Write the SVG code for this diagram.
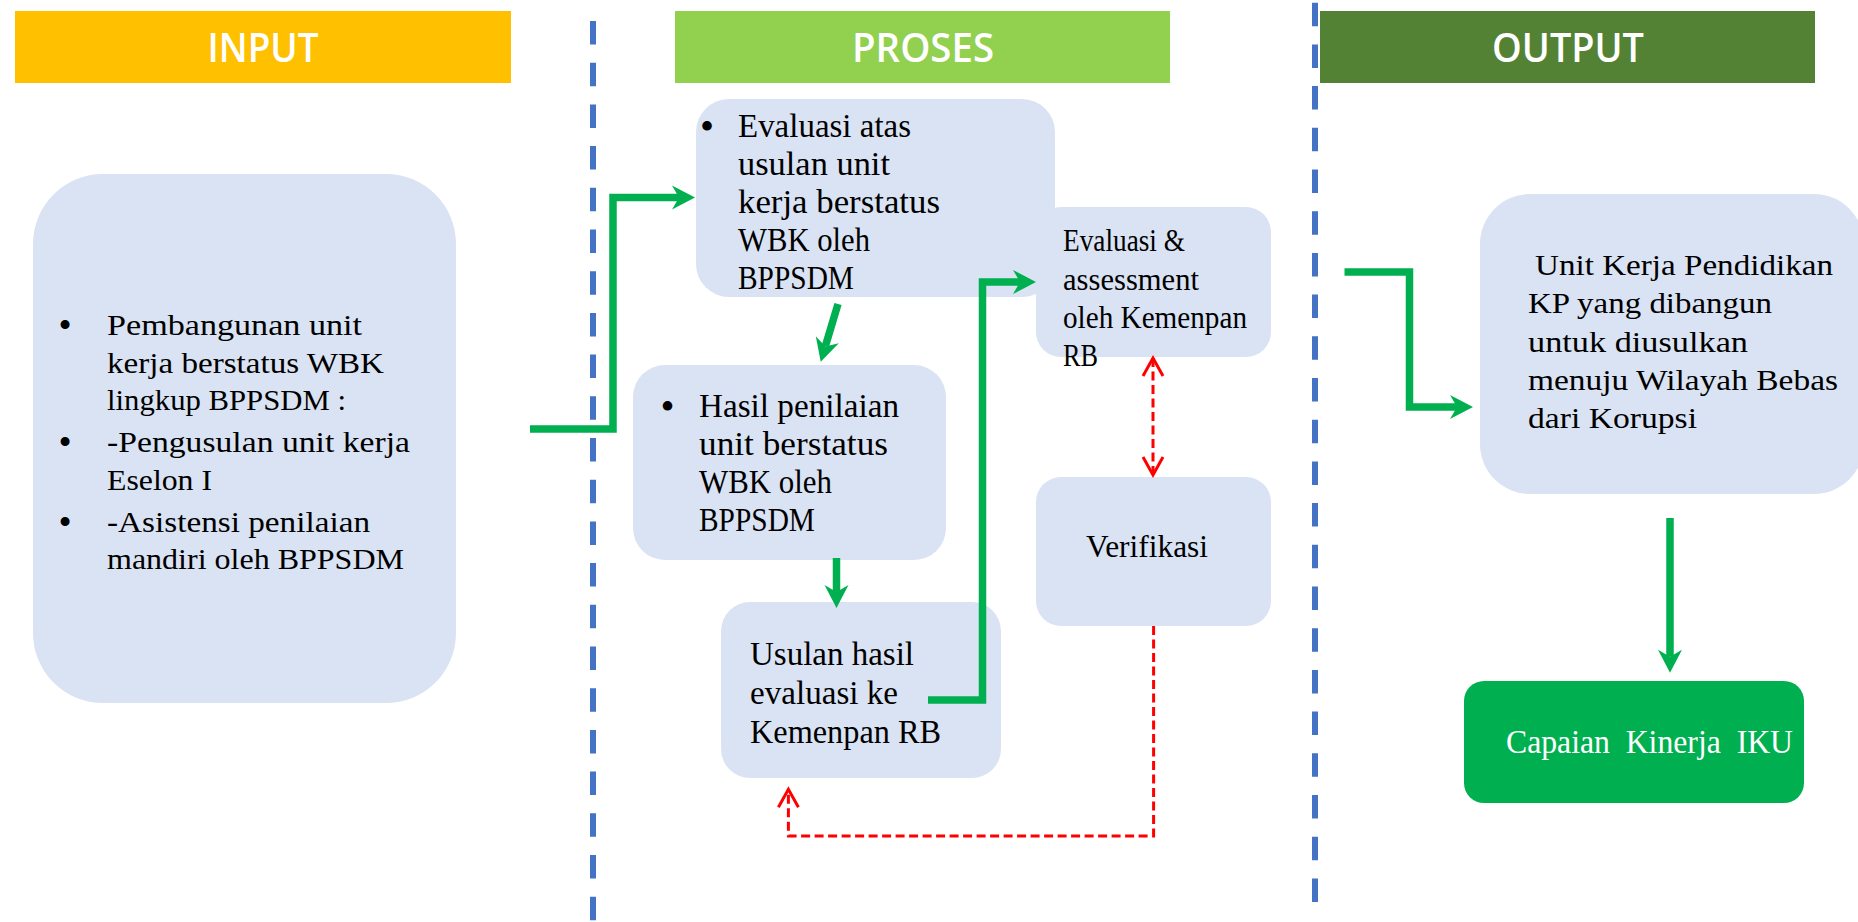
<svg xmlns="http://www.w3.org/2000/svg" width="1858" height="922" viewBox="0 0 1858 922">
<defs>
<style>
.hdr{font-family:"Open Sans","Liberation Sans",sans-serif;font-weight:600;font-size:39px;fill:#ffffff;text-anchor:middle}
.box{fill:#DAE3F3}
.t{font-family:"Liberation Serif","Times New Roman",serif;fill:#000000}
.w{fill:#ffffff}
.bul{text-anchor:middle}
.divider{stroke:#4472C4;stroke-width:6;stroke-dasharray:23.5 18.2;fill:none}
.g{stroke:#00B050;stroke-width:7.5;fill:none;stroke-linejoin:miter;marker-end:url(#ga)}
.r{stroke:#FF0000;stroke-width:3;fill:none;stroke-dasharray:9 4.5}
</style>
<marker id="ga" markerUnits="userSpaceOnUse" viewBox="0 0 23 24" markerWidth="23" markerHeight="24" refX="7" refY="12" orient="auto" overflow="visible">
<path d="M0,0 L23,12 L0,24 L7,12 Z" fill="#00B050"/>
</marker>
<marker id="ra" markerUnits="userSpaceOnUse" viewBox="-2 -2 22 24" markerWidth="22" markerHeight="24" refX="18" refY="10" orient="auto-start-reverse" overflow="visible">
<path d="M0,0 L18,10 L0,20" fill="none" stroke="#FF0000" stroke-width="3" stroke-dasharray="none"/>
</marker>
</defs>

<g id="dividers">
<line class="divider" x1="593" y1="21" x2="593" y2="922"/>
<line class="divider" x1="1315" y1="2.7" x2="1315" y2="907"/>
</g>

<g id="header-input">
<rect x="15" y="11" width="496" height="72" fill="#FFC000"/>
<text class="hdr" x="263" y="62" textLength="111" lengthAdjust="spacingAndGlyphs">INPUT</text>
</g>
<g id="header-proses">
<rect x="675" y="11" width="495" height="72" fill="#92D050"/>
<text class="hdr" x="923" y="62" textLength="142" lengthAdjust="spacingAndGlyphs">PROSES</text>
</g>
<g id="header-output">
<rect x="1320" y="11" width="495" height="72" fill="#548235"/>
<text class="hdr" x="1568" y="62" textLength="152" lengthAdjust="spacingAndGlyphs">OUTPUT</text>
</g>

<g id="node-input">
<rect class="box" x="33" y="174" width="423" height="529" rx="70"/>
<g class="t" font-size="30">
<text class="bul" x="65" y="338" font-size="37.5">•</text>
<text x="107" y="335" textLength="255" lengthAdjust="spacingAndGlyphs">Pembangunan unit</text>
<text x="107" y="372.5" textLength="277" lengthAdjust="spacingAndGlyphs">kerja berstatus WBK</text>
<text x="107" y="410" textLength="239" lengthAdjust="spacingAndGlyphs">lingkup BPPSDM :</text>
<text class="bul" x="65" y="455" font-size="37.5">•</text>
<text x="107" y="452" textLength="303" lengthAdjust="spacingAndGlyphs">-Pengusulan unit kerja</text>
<text x="107" y="490" textLength="105" lengthAdjust="spacingAndGlyphs">Eselon I</text>
<text class="bul" x="65" y="534.5" font-size="37.5">•</text>
<text x="107" y="531.5" textLength="263" lengthAdjust="spacingAndGlyphs">-Asistensi penilaian</text>
<text x="107" y="569" textLength="297" lengthAdjust="spacingAndGlyphs">mandiri oleh BPPSDM</text>
</g>
</g>

<g id="node-evaluasi-atas">
<rect class="box" x="696" y="99" width="359" height="198" rx="33"/>
<g class="t" font-size="33">
<text class="bul" x="707" y="140" font-size="40">•</text>
<text x="738" y="137" textLength="173" lengthAdjust="spacingAndGlyphs">Evaluasi atas</text>
<text x="738" y="175" textLength="152" lengthAdjust="spacingAndGlyphs">usulan unit</text>
<text x="738" y="213" textLength="202" lengthAdjust="spacingAndGlyphs">kerja berstatus</text>
<text x="738" y="251" textLength="132" lengthAdjust="spacingAndGlyphs">WBK oleh</text>
<text x="738" y="289" textLength="116" lengthAdjust="spacingAndGlyphs">BPPSDM</text>
</g>
</g>

<g id="node-evaluasi-assessment">
<rect class="box" x="1036" y="207" width="235" height="150" rx="25"/>
<g class="t" font-size="31">
<text x="1063" y="251" textLength="122" lengthAdjust="spacingAndGlyphs">Evaluasi &amp;</text>
<text x="1063" y="290" textLength="136" lengthAdjust="spacingAndGlyphs">assessment</text>
<text x="1063" y="328" textLength="184" lengthAdjust="spacingAndGlyphs">oleh Kemenpan</text>
<text x="1063" y="366" textLength="35" lengthAdjust="spacingAndGlyphs">RB</text>
</g>
</g>

<g id="node-hasil">
<rect class="box" x="633" y="365" width="313" height="195" rx="32"/>
<g class="t" font-size="33">
<text class="bul" x="667.5" y="420" font-size="40">•</text>
<text x="699" y="417" textLength="200" lengthAdjust="spacingAndGlyphs">Hasil penilaian</text>
<text x="699" y="455" textLength="189" lengthAdjust="spacingAndGlyphs">unit berstatus</text>
<text x="699" y="493" textLength="133" lengthAdjust="spacingAndGlyphs">WBK oleh</text>
<text x="699" y="531" textLength="116" lengthAdjust="spacingAndGlyphs">BPPSDM</text>
</g>
</g>

<g id="node-usulan">
<rect class="box" x="721" y="602" width="280" height="176" rx="29"/>
<g class="t" font-size="33">
<text x="750" y="665" textLength="164" lengthAdjust="spacingAndGlyphs">Usulan hasil</text>
<text x="750" y="704" textLength="148" lengthAdjust="spacingAndGlyphs">evaluasi ke</text>
<text x="750" y="743" textLength="191" lengthAdjust="spacingAndGlyphs">Kemenpan RB</text>
</g>
</g>

<g id="node-verifikasi">
<rect class="box" x="1036" y="477" width="235" height="149" rx="25"/>
<text class="t" font-size="31" x="1086" y="557" textLength="122" lengthAdjust="spacingAndGlyphs">Verifikasi</text>
</g>

<g id="node-unit-kerja">
<rect class="box" x="1480" y="194" width="384" height="300" rx="50"/>
<g class="t" font-size="30">
<text x="1535" y="275" textLength="298" lengthAdjust="spacingAndGlyphs">Unit Kerja Pendidikan</text>
<text x="1528" y="313" textLength="244" lengthAdjust="spacingAndGlyphs">KP yang dibangun</text>
<text x="1528" y="352" textLength="220" lengthAdjust="spacingAndGlyphs">untuk diusulkan</text>
<text x="1528" y="390" textLength="310" lengthAdjust="spacingAndGlyphs">menuju Wilayah Bebas</text>
<text x="1528" y="428" textLength="169" lengthAdjust="spacingAndGlyphs">dari Korupsi</text>
</g>
</g>

<g id="node-capaian">
<rect x="1464" y="681" width="340" height="122" rx="20" fill="#00B050"/>
<text class="t w" font-size="33" x="1506" y="753" xml:space="preserve" style="white-space:pre" textLength="287" lengthAdjust="spacingAndGlyphs">Capaian  Kinerja  IKU</text>
</g>

<g id="connectors">
<path class="g" d="M530,429 H613 V197.5 H679"/>
<path class="g" d="M838,304 L825.3,346.4"/>
<path class="g" d="M836.5,558 V592"/>
<path class="g" d="M928,700 H982.5 V282 H1020"/>
<path class="g" d="M1344.5,272 H1409.5 V407 H1457"/>
<path class="g" d="M1670,518 V656.7"/>
<path class="r" d="M1153,358 V475" marker-start="url(#ra)" marker-end="url(#ra)"/>
<path class="r" d="M1153.6,626 V836 H788.4 V789.3" marker-end="url(#ra)"/>
</g>
</svg>
